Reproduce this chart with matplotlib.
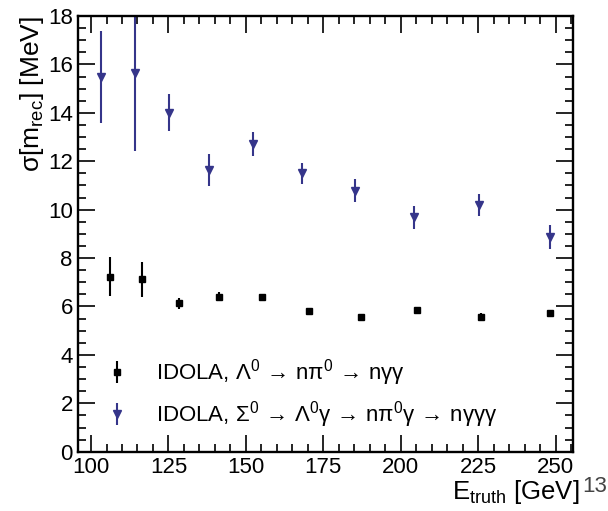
import matplotlib.pyplot as plt
from matplotlib.ticker import MultipleLocator

plt.rcParams['font.family'] = ['Liberation Sans', 'DejaVu Sans']
plt.rcParams['mathtext.fontset'] = 'custom'
plt.rcParams['mathtext.rm'] = 'Liberation Sans'
plt.rcParams['mathtext.it'] = 'Liberation Sans'
plt.rcParams['mathtext.default'] = 'regular'

# Lambda0 -> n pi0 -> n gamma gamma
lam_e = [106.1, 116.3, 128.4, 141.2, 155.3, 170.3, 187.0, 205.1, 226.0, 248.1]
lam_sigma = [7.23, 7.12, 6.13, 6.41, 6.39, 5.83, 5.55, 5.86, 5.58, 5.72]
lam_err = [0.80, 0.72, 0.22, 0.20, 0.10, 0.10, 0.15, 0.10, 0.17, 0.10]

# Sigma0 -> Lambda0 gamma -> n pi0 gamma -> n gamma gamma gamma
sig_e = [103.2, 114.2, 125.3, 138.2, 152.2, 168.1, 185.2, 204.2, 225.2, 248.1]
sig_sigma = [15.50, 15.64, 14.00, 11.64, 12.70, 11.50, 10.79, 9.69, 10.19, 8.86]
sig_err = [1.90, 3.20, 0.77, 0.65, 0.50, 0.43, 0.47, 0.48, 0.45, 0.50]

arr = r'$\,\rightarrow\,$'
lam_label = 'IDOLA, Λ$^{0}$' + arr + 'nπ$^{0}$' + arr + 'nγγ'
sig_label = ('IDOLA, Σ$^{0}$' + arr + 'Λ$^{0}$γ' + arr + 'nπ$^{0}$γ'
             + arr + 'nγγγ')

fig = plt.figure(figsize=(6.08, 5.11), dpi=100)
ax = fig.add_axes([0.1288, 0.116, 0.8132, 0.8527])

ax.errorbar(lam_e, lam_sigma, yerr=lam_err, fmt='s', color='black',
            ms=5, elinewidth=1.5, capsize=0, label=lam_label)
ax.errorbar(sig_e, sig_sigma, yerr=sig_err, fmt='v', color='#35358a',
            ms=5.5, elinewidth=1.5, capsize=0, label=sig_label)

ax.set_xlim(95.9, 255.5)
ax.set_ylim(0, 18)
ax.xaxis.set_major_locator(MultipleLocator(25))
ax.xaxis.set_minor_locator(MultipleLocator(5))
ax.yaxis.set_major_locator(MultipleLocator(2))
ax.yaxis.set_minor_locator(MultipleLocator(0.5))
ax.tick_params(which='both', direction='in', top=True, right=True,
               labelsize=16, width=1.2, pad=4)
ax.tick_params(which='major', length=12)
ax.tick_params(which='minor', length=6)
for s in ax.spines.values():
    s.set_linewidth(1.7)

ax.set_ylabel('σ[m$_{rec}$] [MeV]', fontsize=19, loc='top', labelpad=1)
ax.text(1.013, -0.108, 'E$_{truth}$ [GeV]', transform=ax.transAxes,
        fontsize=18.5, ha='right', va='baseline')
fig.text(0.958, 0.037, '13', fontsize=16, color='#444444', va='baseline')

ax.legend(loc='lower left', bbox_to_anchor=(0.056, 0.05), frameon=False,
          fontsize=16, handlelength=1.0, handletextpad=1.25,
          borderpad=0, borderaxespad=0, labelspacing=0.5)

fig.savefig('out.png', dpi=100)
